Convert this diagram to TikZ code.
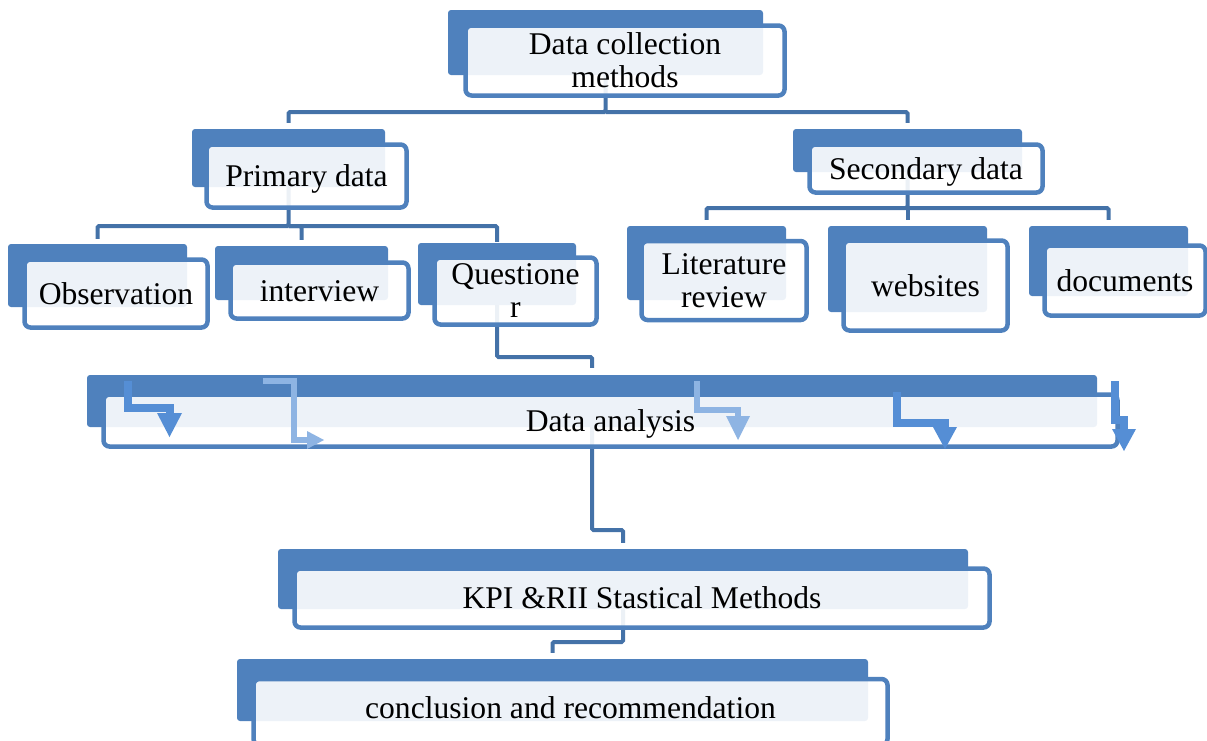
\documentclass[tikz,border=0pt]{standalone}
\usepackage{fontspec}
\setmainfont{Liberation Serif}
\usetikzlibrary{backgrounds}
\definecolor{accent}{HTML}{4F81BD}
\definecolor{conn}{RGB}{68,114,168}
\definecolor{arrmid}{HTML}{558ED5}
\definecolor{arrlight}{HTML}{8EB4E3}
\begin{document}
\begin{tikzpicture}[x=1pt,y=-1pt,
  backbox/.style={rectangle, rounded corners=3pt, fill=accent, inner sep=0pt},
  frontbox/.style={rectangle, rounded corners=6pt, draw=accent, line width=4.5pt,
     fill=white, fill opacity=0.9, text opacity=1, inner sep=0pt, align=center,
     font=\fontsize{31.6}{33}\selectfont},
  oneline/.style={text height=21.8pt, text depth=0pt},
  link/.style={draw=conn, line width=4pt, rounded corners=1.5pt},
  bentmid/.style={draw=arrmid, line width=7.5pt, miter limit=10},
  bentlight/.style={draw=arrlight, line width=6.5pt, miter limit=10}]
\useasboundingbox (0,0) rectangle (1207,740);

% back boxes
\node[backbox, minimum width=315pt, minimum height=65pt] (rootb) at (605.5,42.5) {};
\node[backbox, minimum width=193pt, minimum height=58pt] (prib) at (288.5,158) {};
\node[backbox, minimum width=229pt, minimum height=43pt] (secb) at (907.5,150.5) {};
\node[backbox, minimum width=179pt, minimum height=63pt] (obsb) at (97.5,275.5) {};
\node[backbox, minimum width=173pt, minimum height=54pt] (intb) at (301.5,273) {};
\node[backbox, minimum width=158pt, minimum height=62pt] (qb) at (497,274) {};
\node[backbox, minimum width=159pt, minimum height=74pt] (litb) at (706.5,263) {};
\node[backbox, minimum width=159pt, minimum height=86pt] (webb) at (907.5,269) {};
\node[backbox, minimum width=159pt, minimum height=70pt] (docb) at (1108.5,261) {};
\node[backbox, minimum width=1010pt, minimum height=52pt] (dab) at (592,401) {};
\node[backbox, minimum width=690pt, minimum height=60pt] (kpib) at (623,579) {};
\node[backbox, minimum width=631pt, minimum height=62pt] (concb) at (552.5,690) {};

% front boxes
\node[frontbox, minimum width=319pt, minimum height=70pt] (root) at (625,60.5) {Data collection\\methods};
\node[frontbox, oneline, minimum width=200pt, minimum height=63pt] (pri) at (306.5,176) {Primary data};
\node[frontbox, oneline, minimum width=233pt, minimum height=48pt] (sec) at (926,168.5) {Secondary data};
\node[frontbox, oneline, minimum width=183pt, minimum height=68pt] (obs) at (116,293.5) {Observation};
\node[frontbox, oneline, minimum width=178pt, minimum height=56pt] (int) at (319.5,290.5) {interview};
\node[frontbox, minimum width=162pt, minimum height=67pt] (q) at (515.5,291) {Questione\\r};
\node[frontbox, minimum width=165pt, minimum height=79pt] (lit) at (724,280.5) {Literature\\review};
\node[frontbox, oneline, minimum width=164pt, minimum height=90pt] (web) at (925.5,285.5) {websites};
\node[frontbox, oneline, minimum width=161pt, minimum height=70pt] (doc) at (1125,280.5) {documents};
\node[frontbox, oneline, minimum width=1014pt, minimum height=52pt] (da) at (610.5,420.5) {Data analysis};
\node[frontbox, oneline, minimum width=695pt, minimum height=59pt] (kpi) at (642,598) {KPI \&RII Stastical Methods};
\node[frontbox, minimum width=634pt, minimum height=66pt] (conc) at (570.5,712) {};
\node[font=\fontsize{31.6}{33}\selectfont, inner sep=0pt, text height=21.8pt, text depth=0pt] (conct) at (570.5,708) {conclusion and recommendation};

% bus levels
\coordinate (busA) at (0,112);
\coordinate (busB) at (0,226);
\coordinate (busC) at (0,208);
\coordinate (busD) at (0,357);
\coordinate (busE) at (0,530);
\coordinate (busF) at (0,642);

\begin{pgfonlayer}{background}
\draw[link] (rootb.center) -- (rootb.center |- busA) -| ([yshift=6pt]prib.north);
\draw[link] (rootb.center |- busA) -| ([yshift=6pt]secb.north);
\draw[link] (prib.center) -- (prib.center |- busB) -| ([yshift=5pt]obsb.north);
\draw[link] (prib.center |- busB) -| ([yshift=6pt]intb.north);
\draw[link] (prib.center |- busB) -| ([yshift=1pt]qb.north);
\draw[link] (secb.center) -- (secb.center |- busC) -| ([yshift=6pt]litb.north);
\draw[link] (secb.center |- busC) -| ([yshift=6pt]webb.north);
\draw[link] (secb.center |- busC) -| ([yshift=6pt]docb.north);
\draw[link] (qb.center) -- (qb.center |- busD) -| ([yshift=7pt]dab.north);
\draw[link] (dab.center) -- (dab.center |- busE) -| ([yshift=6pt]kpib.north);
\draw[link] (kpib.center) -- (kpib.center |- busF) -| ([yshift=6pt]concb.north);
\end{pgfonlayer}

% bent arrows inside the analysis band
\draw[bentmid] (128,381) -- (128,408) -- (170,408) -- (170,415);
\fill[arrmid] (157,413) -- (182,413) -- (169.5,437) -- cycle;
\draw[bentlight] (263,381) -- (294,381) -- (294,440) -- (309,440);
\fill[arrlight] (307,431) -- (324,440) -- (307,449) -- cycle;
\draw[bentlight] (697,381) -- (697,410) -- (738,410) -- (738,418);
\fill[arrlight] (726,416) -- (750,416) -- (738,440) -- cycle;
\draw[bentmid] (897,392) -- (897,423) -- (945,423) -- (945,429);
\fill[arrmid] (933,427) -- (957,427) -- (945,449) -- cycle;
\draw[bentmid] (1115,381) -- (1115,420) -- (1124,420) -- (1124,431);
\fill[arrmid] (1112,429) -- (1136,429) -- (1124,451) -- cycle;
\end{tikzpicture}
\end{document}
